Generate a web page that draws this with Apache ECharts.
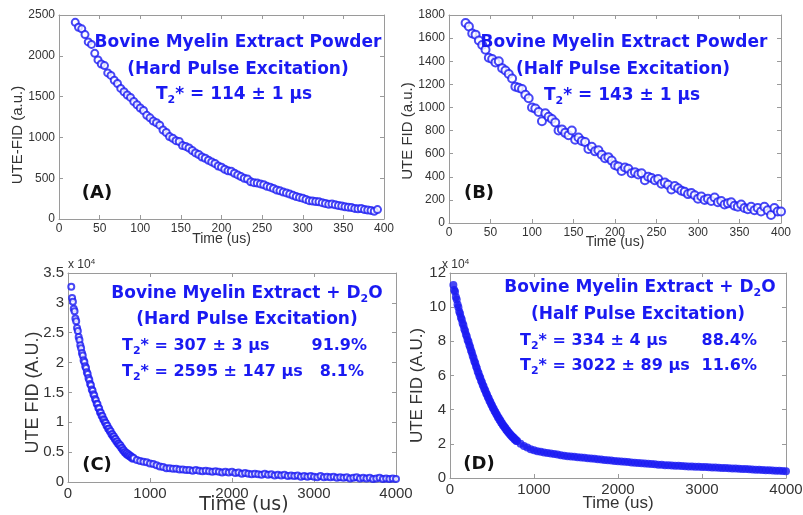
<!DOCTYPE html>
<html>
<head>
<meta charset="utf-8">
<title>UTE-FID decay of bovine myelin extract</title>
<script src="https://cdn.jsdelivr.net/npm/echarts@6/dist/echarts.min.js"></script>
<style>
html, body { margin: 0; padding: 0; background: #fff; }
#chart { width: 803px; height: 515px; }
</style>
</head>
<body>
<div id="chart"></div>
<script>
// (A) powder, hard pulse: time (us) / signal (a.u.)
var timeA = [20,24,28,32,36,40,44,48,52,56,60,64,68,72,76,80,84,88,92,96,
	100,104,108,112,116,120,124,128,132,136,140,144,148,152,156,160,164,168,172,176,
	180,184,188,192,196,200,204,208,212,216,220,224,228,232,236,240,244,248,252,256,
	260,264,268,272,276,280,284,288,292,296,300,304,308,312,316,320,324,328,332,336,
	340,344,348,352,356,360,364,368,372,376,380,384,388,392];
var fidA = [2410,2350,2330,2260,2170,2140,2030,1950,1900,1880,
	1790,1760,1700,1660,1600,1560,1520,1490,1440,1400,
	1360,1330,1270,1240,1200,1180,1150,1090,1060,1010,
	990,960,950,900,890,870,840,810,790,760,
	745,720,700,680,650,635,610,590,585,560,
	540,520,500,490,455,445,440,430,420,400,
	390,375,355,345,330,320,305,290,275,265,
	255,240,225,220,215,210,200,190,180,185,
	175,165,160,150,145,140,130,125,128,115,
	110,105,95,115];

// (B) powder, half pulse
var timeB = [20,24,28,32,36,40,44,48,52,56,60,64,68,72,76,80,84,88,92,96,
	100,104,108,112,116,120,124,128,132,136,140,144,148,152,156,160,164,168,172,176,
	180,184,188,192,196,200,204,208,212,216,220,224,228,232,236,240,244,248,252,256,
	260,264,268,272,276,280,284,288,292,296,300,304,308,312,316,320,324,328,332,336,
	340,344,348,352,356,360,364,368,372,376,380,384,388,392,396,400];
var fidB = [1730,1700,1640,1630,1580,1540,1500,1430,1420,1390,
	1400,1340,1320,1290,1250,1180,1170,1160,1110,1080,
	1000,990,960,880,950,920,900,870,800,810,
	780,760,800,720,740,710,700,640,660,620,
	630,590,560,570,540,500,490,450,480,470,
	430,440,420,430,370,400,390,370,380,340,
	350,330,290,320,300,280,270,250,260,240,
	210,230,200,210,190,220,180,190,160,170,
	180,150,140,160,130,120,140,110,130,100,
	140,110,70,130,100,100];

// (C) and (D) + D2O, sampled finer at the start; signal in units of 1e4
var timeHead = [40,50,60,70,80,90,100,110,120,130,140,150,160,170,180,190,200,210,220,230,
	240,250,260,270,280,290,300,310,320,330,340,350,360,370,380,390,400,410,420,430,
	440,450,460,470,480,490,500,510,520,530,540,550,560,570,580,590,600,610,620,630,
	640,650,660,670,680,690,700,710,720,730,740,750,760,770,780,790,800];
var timeTail = [840,880,920,960,1000,1040,1080,1120,1160,1200,1240,1280,1320,1360,1400,1440,1480,1520,1560,1600,
	1640,1680,1720,1760,1800,1840,1880,1920,1960,2000,2040,2080,2120,2160,2200,2240,2280,2320,2360,2400,
	2440,2480,2520,2560,2600,2640,2680,2720,2760,2800,2840,2880,2920,2960,3000,3040,3080,3120,3160,3200,
	3240,3280,3320,3360,3400,3440,3480,3520,3560,3600,3640,3680,3720,3760,3800,3840,3880,3920,3960,4000];

var fidC = [3.27,3.08,3.02,2.90,2.86,2.74,2.69,2.58,2.53,2.43,
	2.38,2.29,2.24,2.16,2.12,2.04,2.01,1.94,1.91,1.84,
	1.81,1.74,1.71,1.64,1.62,1.55,1.53,1.47,1.45,1.39,
	1.37,1.31,1.30,1.24,1.23,1.17,1.16,1.11,1.10,1.05,
	1.04,1.00,0.99,0.94,0.94,0.89,0.89,0.85,0.85,0.80,
	0.80,0.76,0.76,0.72,0.72,0.68,0.68,0.64,0.64,0.61,
	0.61,0.57,0.57,0.53,0.53,0.50,0.50,0.47,0.48,0.45,
	0.46,0.43,0.44,0.41,0.42,0.39,0.40,
	0.37,0.35,0.34,0.33,0.31,0.30,0.28,0.26,0.25,0.23,
	0.23,0.22,0.22,0.21,0.21,0.20,0.20,0.19,0.20,0.19,
	0.18,0.19,0.18,0.17,0.18,0.17,0.16,0.17,0.16,0.17,
	0.15,0.16,0.14,0.15,0.14,0.13,0.14,0.13,0.12,0.14,
	0.12,0.13,0.11,0.12,0.11,0.12,0.10,0.11,0.10,0.11,
	0.09,0.10,0.09,0.10,0.09,0.08,0.10,0.08,0.09,0.08,
	0.09,0.07,0.08,0.07,0.08,0.06,0.07,0.08,0.06,0.07,
	0.06,0.07,0.05,0.06,0.07,0.05,0.06,0.05,0.06,0.05];

var fidD = [11.3,11.0,10.9,10.6,10.45,10.15,10.0,9.75,9.62,9.40,
	9.28,9.06,8.94,8.72,8.60,8.40,8.28,8.08,7.97,7.78,
	7.66,7.46,7.35,7.15,7.03,6.84,6.73,6.54,6.43,6.24,
	6.13,5.96,5.87,5.70,5.61,5.44,5.36,5.20,5.12,4.96,
	4.89,4.74,4.67,4.52,4.45,4.31,4.25,4.11,4.05,3.92,
	3.87,3.74,3.69,3.56,3.52,3.40,3.36,3.24,3.20,3.09,
	3.06,2.95,2.92,2.81,2.79,2.69,2.67,2.57,2.55,2.46,
	2.45,2.36,2.35,2.26,2.25,2.17,2.17,
	2.00,1.88,1.78,1.69,1.62,1.57,1.53,1.49,1.46,1.43,
	1.40,1.37,1.33,1.30,1.28,1.26,1.24,1.22,1.20,1.18,
	1.16,1.14,1.12,1.10,1.08,1.06,1.04,1.02,1.00,0.98,
	0.96,0.95,0.93,0.91,0.89,0.88,0.86,0.85,0.83,0.82,
	0.80,0.78,0.77,0.75,0.74,0.73,0.72,0.71,0.70,0.69,
	0.68,0.67,0.66,0.66,0.65,0.64,0.63,0.62,0.61,0.60,
	0.59,0.58,0.57,0.56,0.55,0.54,0.53,0.52,0.51,0.50,
	0.49,0.48,0.47,0.46,0.45,0.44,0.43,0.42,0.41,0.40];

var timeCD = timeHead.concat(timeTail);

var BLUE = '#1a1af2';
var AXIS = '#9a9a9a';
var LABEL = '#333';

// one entry per sub plot
var panels = [
	{ grid: { left: 59, top: 15, width: 325, height: 204 }, x: [0, 400, 50], y: [0, 2500, 500], tick: 12,
		yName: 'UTE-FID (a.u.)', yFont: ['Liberation Sans', 15], yGap: 34, yPad: [0, 36, 0, 0],
		xFont: ['Liberation Sans', 14], xGap: 13, xPad: 0 },
	{ grid: { left: 449, top: 15, width: 332, height: 208 }, x: [0, 400, 50], y: [0, 1800, 200], tick: 12,
		yName: 'UTE FID (a.u.)', yFont: ['Liberation Sans', 15], yGap: 34, yPad: [0, 24, 0, 0],
		xFont: ['Liberation Sans', 14], xGap: 12, xPad: 0 },
	{ grid: { left: 68, top: 273, width: 328, height: 209 }, x: [0, 4000, 1000], y: [0, 3.5, 0.5], tick: 15,
		yName: 'UTE FID (A.U.)', yFont: ['Liberation Sans', 18], yGap: 26, yPad: [0, 30, 0, 0],
		xFont: ['DejaVu Sans', 19], xGap: 14, xPad: [0, 0, 0, 24] },
	{ grid: { left: 450, top: 273, width: 336, height: 205 }, x: [0, 4000, 1000], y: [0, 12, 2], tick: 15,
		yName: 'UTE FID (A.U.)', yFont: ['Liberation Sans', 17], yGap: 24, yPad: [0, 20, 0, 0],
		xFont: ['Liberation Sans', 17], xGap: 17, xPad: 0 }
];

function toPairs(t, v) {
	return t.map(function (x, i) { return [x, v[i]]; });
}
function plain(v) {
	return String(v);
}

var grids = [], xAxes = [], yAxes = [];
panels.forEach(function (p, i) {
	var g = p.grid;
	g.outerBoundsMode = 'none';
	g.containLabel = false;
	grids.push(g);
	var line = { show: true, onZero: false, lineStyle: { color: AXIS, width: 1 } };
	var tick = { show: true, inside: true, length: 4, lineStyle: { color: AXIS } };
	var lab = { color: LABEL, fontFamily: 'Liberation Sans', fontSize: p.tick, margin: 4, formatter: plain };
	xAxes.push({
		type: 'value', gridIndex: i, position: 'bottom', min: p.x[0], max: p.x[1], interval: p.x[2],
		axisLine: line, axisTick: tick, splitLine: { show: false }, axisLabel: lab,
		name: 'Time (us)', nameLocation: 'middle', nameGap: p.xGap, nameMoveOverlap: false,
		nameTextStyle: { color: LABEL, fontFamily: p.xFont[0], fontSize: p.xFont[1], padding: p.xPad }
	});
	xAxes.push({
		type: 'value', gridIndex: i, position: 'top', min: p.x[0], max: p.x[1], interval: p.x[2],
		axisLine: line, axisTick: tick, splitLine: { show: false }, axisLabel: { show: false }
	});
	yAxes.push({
		type: 'value', gridIndex: i, position: 'left', min: p.y[0], max: p.y[1], interval: p.y[2],
		axisLine: line, axisTick: tick, splitLine: { show: false }, axisLabel: lab,
		name: p.yName, nameLocation: 'middle', nameGap: p.yGap, nameMoveOverlap: false,
		nameTextStyle: { color: LABEL, fontFamily: p.yFont[0], fontSize: p.yFont[1], padding: p.yPad }
	});
	yAxes.push({
		type: 'value', gridIndex: i, position: 'right', min: p.y[0], max: p.y[1], interval: p.y[2],
		axisLine: line, axisTick: tick, splitLine: { show: false }, axisLabel: { show: false }
	});
});

function richSet(size) {
	return {
		n: { fontFamily: 'DejaVu Sans', fontWeight: 'bold', fontSize: size, fill: BLUE, color: BLUE, lineHeight: 22 },
		s: { fontFamily: 'DejaVu Sans', fontWeight: 'bold', fontSize: 11, fill: BLUE, color: BLUE, lineHeight: 11, verticalAlign: 'bottom' }
	};
}

function txt(x, y, text, align, size) {
	return {
		type: 'text', x: x, y: y, z: 100,
		style: { text: text, rich: richSet(size || 17), align: align || 'center', textAlign: align || 'center',
			verticalAlign: 'middle', textVerticalAlign: 'middle' }
	};
}
function t2(rest) {
	return '{n|T}{s|2}{n|* = ' + rest + '}';
}
function letter(x, y, s) {
	return {
		type: 'text', x: x, y: y, z: 100,
		style: { text: s, fontFamily: 'DejaVu Sans', fontWeight: 'bold', fontSize: 18, fill: '#111',
			align: 'center', textAlign: 'center', verticalAlign: 'middle', textVerticalAlign: 'middle' }
	};
}
function power(x, y) {
	return {
		type: 'text', x: x, y: y, z: 100,
		style: { text: '{a|x 10}{b|4}', align: 'left', verticalAlign: 'middle', textVerticalAlign: 'middle',
			rich: {
				a: { fontFamily: 'Liberation Sans', fontSize: 12, fill: LABEL, color: LABEL, lineHeight: 15 },
				b: { fontFamily: 'Liberation Sans', fontSize: 8, fill: LABEL, color: LABEL, lineHeight: 8, verticalAlign: 'top' }
			} }
	};
}

var graphics = [
	txt(238, 43, '{n|Bovine Myelin Extract Powder}'),
	txt(238, 70, '{n|(Hard Pulse Excitation)}'),
	txt(234, 95, t2('114 ± 1 μs')),
	txt(624, 43, '{n|Bovine Myelin Extract Powder}'),
	txt(623, 70, '{n|(Half Pulse Excitation)}'),
	txt(622, 96, t2('143 ± 1 μs')),
	txt(247, 294, '{n|Bovine Myelin Extract + D}{s|2}{n|O}'),
	txt(247, 320, '{n|(Hard Pulse Excitation)}'),
	txt(122, 346, t2('307 ± 3 μs'), 'left', 16),
	txt(367, 346, '{n|91.9%}', 'right', 16),
	txt(122, 372, t2('2595 ± 147 μs'), 'left', 16),
	txt(364, 372, '{n|8.1%}', 'right', 16),
	txt(640, 288, '{n|Bovine Myelin Extract + D}{s|2}{n|O}'),
	txt(638, 315, '{n|(Half Pulse Excitation)}'),
	txt(520, 341, t2('334 ± 4 μs'), 'left', 16),
	txt(757, 341, '{n|88.4%}', 'right', 16),
	txt(520, 366, t2('3022 ± 89 μs'), 'left', 16),
	txt(757, 366, '{n|11.6%}', 'right', 16),
	letter(97, 193, '(A)'),
	letter(479, 193, '(B)'),
	letter(97, 465, '(C)'),
	letter(479, 464, '(D)'),
	power(68, 265),
	power(442, 265)
];

function scatter(i, t, v, symbol, size, border) {
	return {
		type: 'scatter', xAxisIndex: i * 2, yAxisIndex: i * 2, data: toPairs(t, v),
		symbol: symbol, symbolSize: size, silent: true, animation: false,
		itemStyle: { color: BLUE, borderColor: BLUE, borderWidth: border }
	};
}

var option = {
	backgroundColor: '#fff',
	animation: false,
	grid: grids,
	xAxis: xAxes,
	yAxis: yAxes,
	graphic: graphics,
	series: [
		scatter(0, timeA, fidA, 'emptyCircle', 7, 1.6),
		scatter(1, timeB, fidB, 'emptyCircle', 8, 1.6),
		scatter(2, timeCD, fidC, 'emptyCircle', 6, 2.2),
		scatter(3, timeCD, fidD, 'circle', 8, 0)
	]
};

var graph = echarts.init(document.getElementById('chart'));
graph.setOption(option);
</script>
</body>
</html>
